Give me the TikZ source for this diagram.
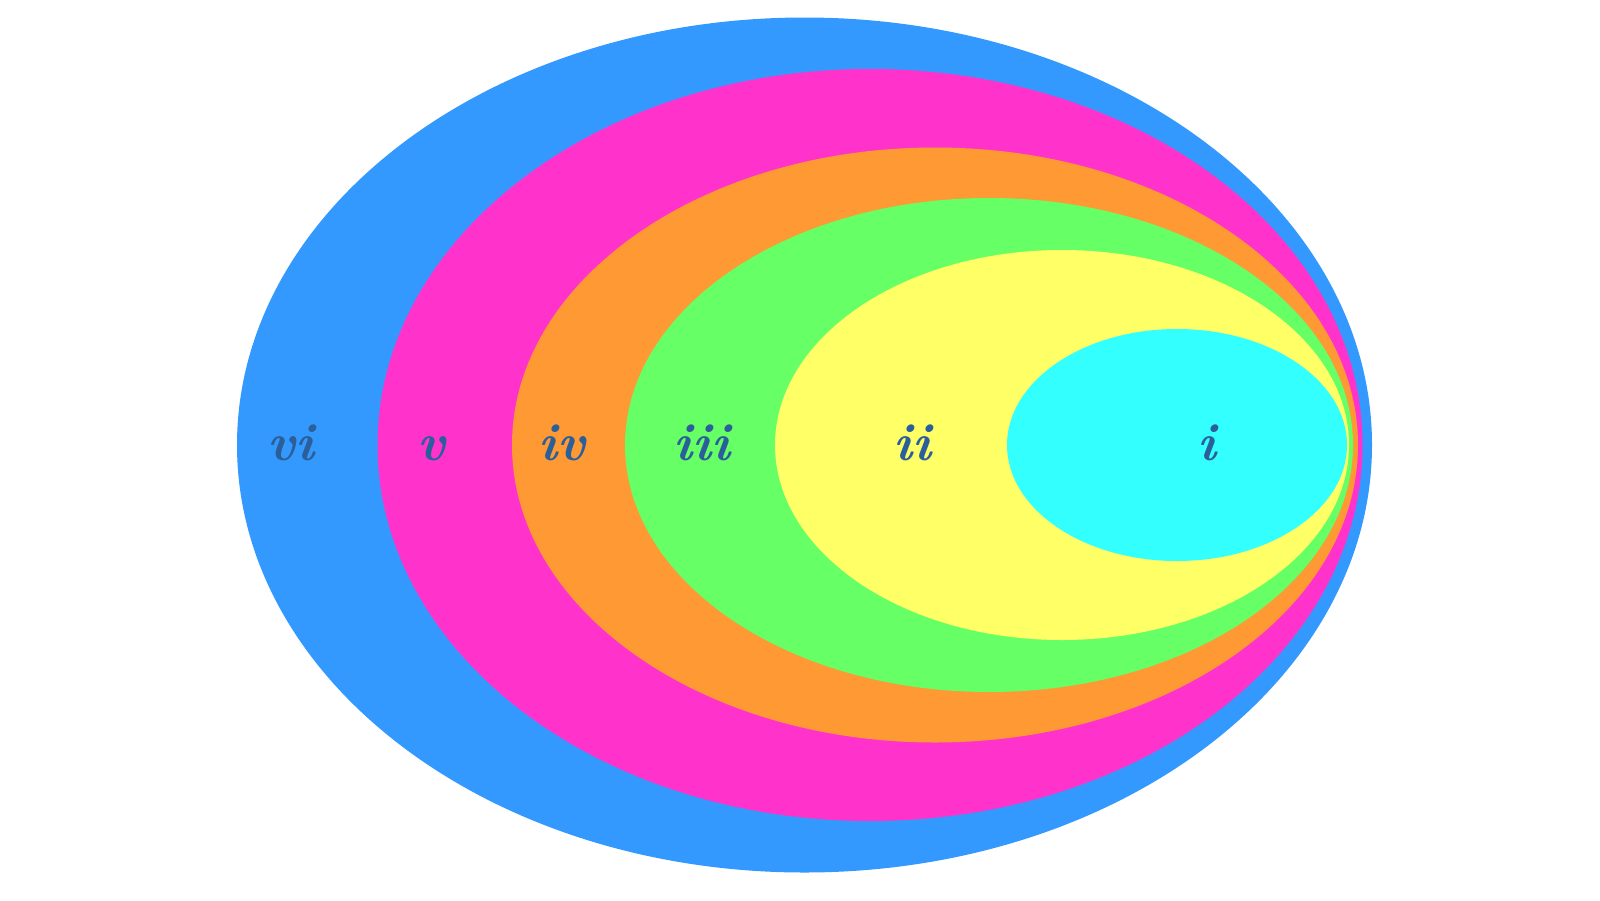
\documentclass[tikz,border=0pt]{standalone}
\usepackage{tikz}

\definecolor{ringvi}{HTML}{3399FF}
\definecolor{ringv}{HTML}{FF33CC}
\definecolor{ringiv}{HTML}{FF9933}
\definecolor{ringiii}{HTML}{66FF66}
\definecolor{ringii}{HTML}{FFFF66}
\definecolor{ringi}{HTML}{33FFFF}
\definecolor{numeral}{HTML}{2B5F9A}

\begin{document}
\begin{tikzpicture}[x=1pt,y=-1pt,
    roman/.style={text=numeral, font=\fontsize{53}{57}\selectfont\bfseries\itshape, anchor=base, inner sep=0pt}]
        \useasboundingbox (0,0) rectangle (1600,900);
        \def \cy {445}

        % nested rings, outermost first
        \foreach \cx/\rx/\ry/\col in {804.5/567.5/427.5/ringvi, 870/492.5/376/ringv,
            935/423/297.5/ringiv, 989/364/247/ringiii, 1062/287/195/ringii, 1177/170/116/ringi}{
          \fill[\col] (\cx,\cy) ellipse [x radius=\rx, y radius=\ry];
        }

        \foreach \x/\t [count=\ni from 1] in {291/vi, 432/v, 562/iv, 702/iii, 912/ii, 1207/i}{
          \node[roman] at (\x,460) (n\ni) {\t};
        }
        \end{tikzpicture}
\end{document}
